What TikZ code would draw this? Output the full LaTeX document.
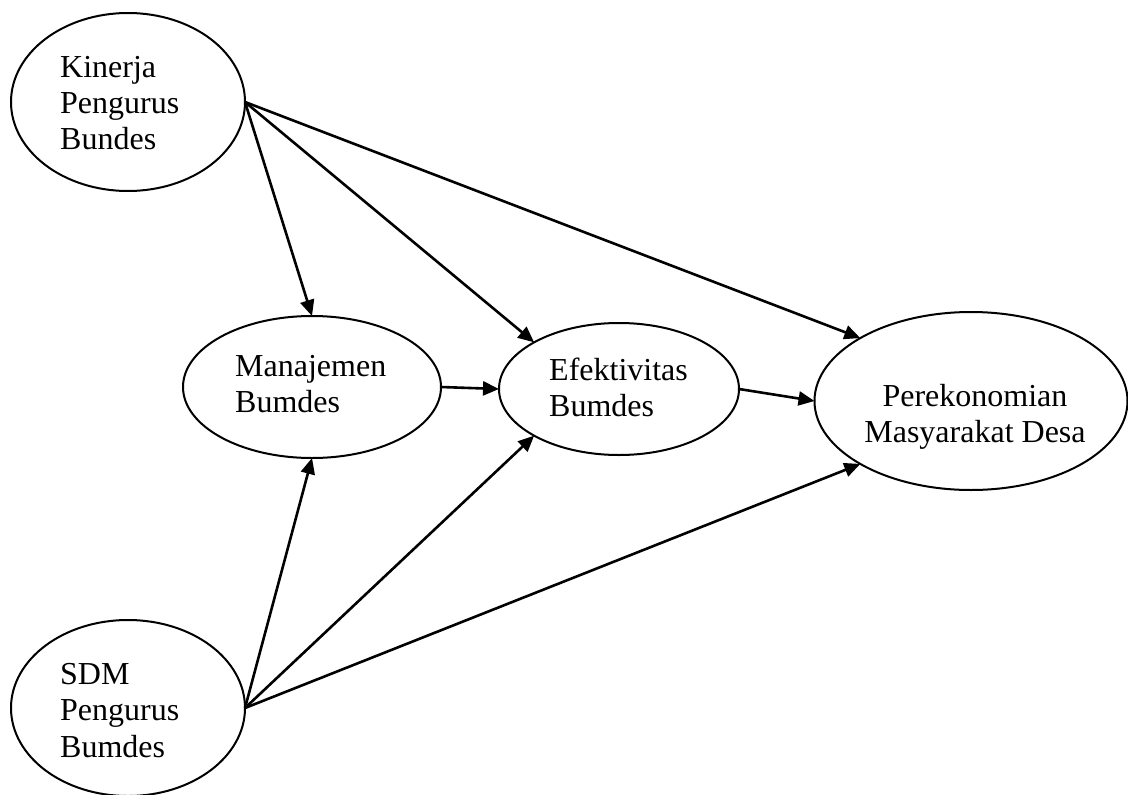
\documentclass[tikz,border=0pt]{standalone}
\usepackage{fontspec}
\setmainfont{Liberation Serif}
\usetikzlibrary{arrows.meta,shapes.geometric}
\begin{document}
\begin{tikzpicture}[x=1pt,y=-1pt,
  oval/.style={ellipse,draw,line width=2pt,inner sep=0pt,outer sep=0pt},
  lbl/.style={inner sep=0pt,font=\fontsize{32}{36.5}\selectfont},
  arr/.style={line width=2.6pt,-{Triangle[length=16pt,width=14pt]}}]
\useasboundingbox (0,0) rectangle (1128,795);
\node[oval,minimum width=234pt,minimum height=178pt] (kin) at (128,102) {};
\node[oval,minimum width=234pt,minimum height=176pt] (sdm) at (128,708) {};
\node[oval,minimum width=258pt,minimum height=142pt] (man) at (312,387) {};
\node[oval,minimum width=240pt,minimum height=132pt] (eff) at (619,389) {};
\node[oval,minimum width=313pt,minimum height=178pt] (per) at (971,401) {};
\node[lbl,anchor=base west] (tkin) at (60,77) {\begin{tabular}[t]{@{}l@{}}Kinerja\\Pengurus\\Bundes\end{tabular}};
\node[lbl,anchor=base west] (tsdm) at (60,684) {\begin{tabular}[t]{@{}l@{}}SDM\\Pengurus\\Bumdes\end{tabular}};
\node[lbl,anchor=base west] (tman) at (235,376) {\begin{tabular}[t]{@{}l@{}}Manajemen\\Bumdes\end{tabular}};
\node[lbl,anchor=base west] (teff) at (549,380) {\begin{tabular}[t]{@{}l@{}}Efektivitas\\Bumdes\end{tabular}};
\node[lbl,anchor=base] (tper) at (975,406) {\begin{tabular}[t]{@{}c@{}}Perekonomian\\Masyarakat Desa\end{tabular}};
\draw[arr] (kin.east) -- (man.north);
\draw[arr] (kin.east) -- (eff.north west);
\draw[arr] (kin.east) -- (per.north west);
\draw[arr] (sdm.east) -- (man.south);
\draw[arr] (sdm.east) -- (eff.south west);
\draw[arr] (sdm.east) -- (per.south west);
\draw[arr] (man.east) -- (eff.west);
\draw[arr] (eff.east) -- (per.west);
\end{tikzpicture}
\end{document}
